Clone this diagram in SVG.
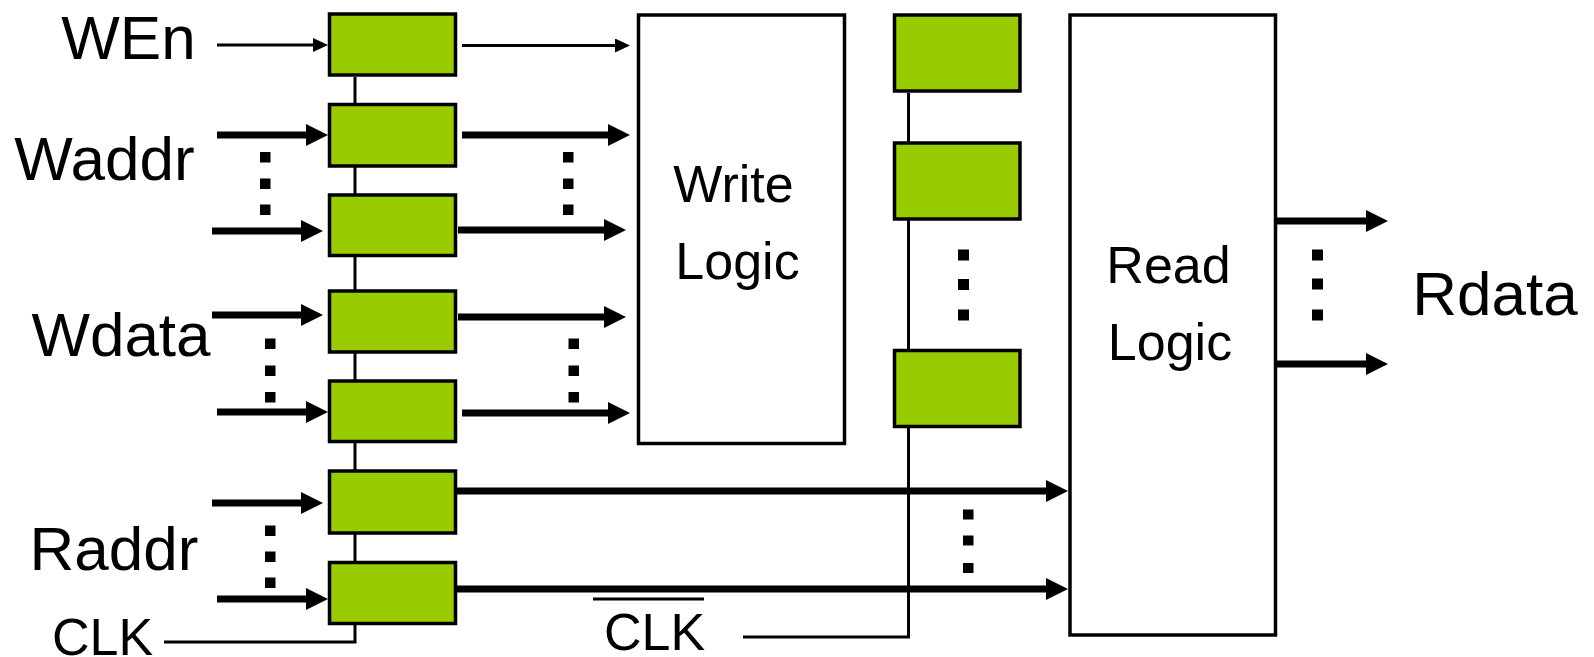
<svg xmlns="http://www.w3.org/2000/svg" width="1594" height="657" viewBox="0 0 1594 657">
  <style>
    .reg { fill: #99CC00; stroke: #000; stroke-width: 3.5; }
    .logic { fill: #fff; stroke: #000; stroke-width: 3.5; }
    .wire { fill: none; stroke: #000; stroke-width: 3; }
    .bus { fill: none; stroke: #000; stroke-width: 7; marker-end: url(#headBig); }
    .sig { fill: none; stroke: #000; stroke-width: 3; marker-end: url(#headSmall); }
    .dot { fill: #000; }
    .lbl { font-family: "Liberation Sans", Arial, sans-serif; font-size: 62px; fill: #000; text-anchor: middle; }
    .lbl-s { font-family: "Liberation Sans", Arial, sans-serif; font-size: 52px; fill: #000; text-anchor: middle; }
  </style>
  <defs>
    <marker id="headBig" markerUnits="userSpaceOnUse" viewBox="0 0 22 22" markerWidth="22" markerHeight="22" refX="2" refY="11" orient="auto">
      <path d="M0,0 L22,11 L0,22 z" fill="#000"/>
    </marker>
    <marker id="headSmall" markerUnits="userSpaceOnUse" viewBox="0 0 15 14" markerWidth="15" markerHeight="14" refX="2" refY="7" orient="auto">
      <path d="M0,0 L15,7 L0,14 z" fill="#000"/>
    </marker>
  </defs>

  <rect width="1594" height="657" fill="#fff"/>

  <!-- clock wiring and data connectors -->
  <g id="connectors">
    <path class="wire" d="M355,77 V642 H164"/>
    <path class="wire" d="M908.5,93 V637 H743"/>

    <path class="sig" d="M217,45 H315"/>
    <path class="sig" d="M462,45.5 H617"/>

    <path class="bus" d="M217,135 H308"/>
    <path class="bus" d="M462,135 H610"/>
    <path class="bus" d="M212,231 H303"/>
    <path class="bus" d="M458,230 H606"/>
    <path class="bus" d="M212,315 H303"/>
    <path class="bus" d="M458,317 H606"/>
    <path class="bus" d="M217,412 H308"/>
    <path class="bus" d="M462,413 H610"/>
    <path class="bus" d="M212,503 H303"/>
    <path class="bus" d="M457,491 H1048"/>
    <path class="bus" d="M217,599 H308"/>
    <path class="bus" d="M457,589 H1048"/>
    <path class="bus" d="M1277,221 H1368"/>
    <path class="bus" d="M1277,364 H1368"/>
  </g>

  <!-- input register column -->
  <g id="reg-wen"><rect class="reg" x="329.5" y="14" width="126" height="61"/></g>
  <g id="reg-waddr-0"><rect class="reg" x="329.5" y="104.5" width="126" height="61.5"/></g>
  <g id="reg-waddr-n"><rect class="reg" x="329.5" y="195" width="126" height="60.5"/></g>
  <g id="reg-wdata-0"><rect class="reg" x="329.5" y="291" width="126" height="61"/></g>
  <g id="reg-wdata-n"><rect class="reg" x="329.5" y="381" width="126" height="60.5"/></g>
  <g id="reg-raddr-0"><rect class="reg" x="329.5" y="471" width="126" height="62"/></g>
  <g id="reg-raddr-n"><rect class="reg" x="329.5" y="562.5" width="126" height="61"/></g>

  <!-- write logic -->
  <g id="write-logic">
    <rect class="logic" x="638.5" y="15" width="206" height="428.5"/>
    <text class="lbl-s" x="733.5" y="202">Write</text>
    <text class="lbl-s" x="737.5" y="278.5">Logic</text>
  </g>

  <!-- storage registers -->
  <g id="mem-0"><rect class="reg" x="894.5" y="15" width="125.5" height="76"/></g>
  <g id="mem-1"><rect class="reg" x="894.5" y="143" width="125.5" height="76"/></g>
  <g id="mem-n"><rect class="reg" x="894.5" y="350.5" width="125.5" height="76"/></g>

  <!-- read logic -->
  <g id="read-logic">
    <rect class="logic" x="1070" y="15" width="205.5" height="620"/>
    <text class="lbl-s" x="1168.5" y="283">Read</text>
    <text class="lbl-s" x="1170" y="359.5">Logic</text>
  </g>

  <!-- labels -->
  <g id="labels">
    <text class="lbl" x="128.5" y="59">WEn</text>
    <text class="lbl" x="104.5" y="180">Waddr</text>
    <text class="lbl" x="121" y="356">Wdata</text>
    <text class="lbl" x="114" y="570">Raddr</text>
    <text class="lbl-s" x="102.5" y="655">CLK</text>
    <text class="lbl-s" x="654.5" y="650">CLK</text>
    <line x1="593" y1="599" x2="704" y2="599" stroke="#000" stroke-width="3"/>
    <text class="lbl" x="1495" y="315">Rdata</text>
  </g>

  <!-- ellipsis marks for omitted bits -->
  <g id="ellipses">
    <rect class="dot" x="260" y="152" width="10.5" height="10.5"/>
    <rect class="dot" x="260" y="178.5" width="10.5" height="10.5"/>
    <rect class="dot" x="260" y="204.5" width="10.5" height="10.5"/>
    <rect class="dot" x="563" y="152" width="10.5" height="10.5"/>
    <rect class="dot" x="563" y="178.5" width="10.5" height="10.5"/>
    <rect class="dot" x="563" y="204.5" width="10.5" height="10.5"/>

    <rect class="dot" x="265" y="338.5" width="10.5" height="10.5"/>
    <rect class="dot" x="265" y="365.5" width="10.5" height="10.5"/>
    <rect class="dot" x="265" y="392" width="10.5" height="10.5"/>
    <rect class="dot" x="568.5" y="338.5" width="10.5" height="10.5"/>
    <rect class="dot" x="568.5" y="365.5" width="10.5" height="10.5"/>
    <rect class="dot" x="568.5" y="392" width="10.5" height="10.5"/>

    <rect class="dot" x="265" y="525.5" width="10.5" height="10.5"/>
    <rect class="dot" x="265" y="551.5" width="10.5" height="10.5"/>
    <rect class="dot" x="265" y="577.5" width="10.5" height="10.5"/>

    <rect class="dot" x="958" y="249.5" width="11" height="11"/>
    <rect class="dot" x="958" y="279" width="11" height="11"/>
    <rect class="dot" x="958" y="309.5" width="11" height="11"/>

    <rect class="dot" x="963" y="509.5" width="10.5" height="10"/>
    <rect class="dot" x="963" y="535.5" width="10.5" height="10"/>
    <rect class="dot" x="963" y="563" width="10.5" height="10"/>

    <rect class="dot" x="1312" y="249.5" width="11" height="11"/>
    <rect class="dot" x="1312" y="278.5" width="11" height="11"/>
    <rect class="dot" x="1312" y="309.5" width="11" height="11"/>
  </g>
</svg>
